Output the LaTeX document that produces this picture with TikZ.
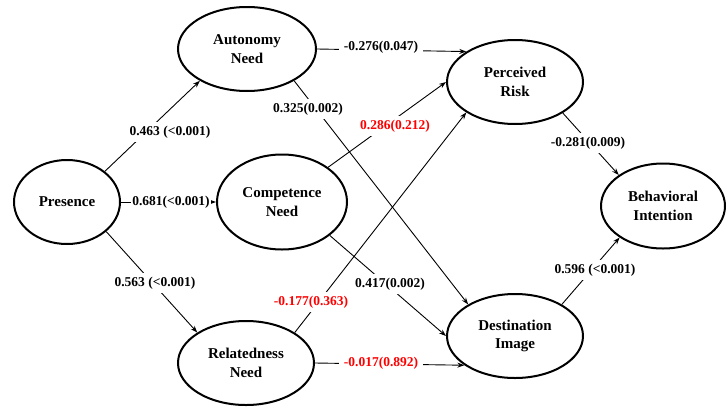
\documentclass[tikz,border=0pt]{standalone}
\usepackage{fontspec}
\setmainfont{Liberation Serif}
\usetikzlibrary{shapes.geometric,arrows.meta}

\begin{document}
\begin{tikzpicture}[x=1pt,y=-1pt,
  construct/.style={ellipse, draw, line width=2pt, inner sep=0pt, align=center,
     font=\fontsize{15}{18.5}\selectfont\bfseries},
  effect/.style={draw, line width=0.9pt, -{Stealth[length=7pt,width=5pt]}},
  coef/.style={fill=white, inner xsep=5pt, inner ysep=4pt, font=\fontsize{13.5}{16}\selectfont\bfseries},
  nscoef/.style={coef, text=red}]
\useasboundingbox (0,0) rectangle (727,407);

% constructs
\node[construct, minimum width=106pt, minimum height=84pt] (pres) at (67,202) {Presence};
\node[construct, minimum width=138pt, minimum height=84pt] (auto) at (247,49) {Autonomy\\Need};
\node[construct, minimum width=130pt, minimum height=95pt] (comp) at (282,202) {Competence\\Need};
\node[construct, minimum width=136pt, minimum height=84pt] (rel) at (246,363) {Relatedness\\Need};
\node[construct, minimum width=136pt, minimum height=84pt] (risk) at (515,82) {Perceived\\Risk};
\node[construct, minimum width=136pt, minimum height=84pt] (dest) at (515,336) {Destination\\Image};
\node[construct, minimum width=124pt, minimum height=85pt] (beh) at (663,206) {Behavioral\\Intention};

% structural paths
\draw[effect] (pres.39) -- (auto.214);
\draw[effect] (pres) -- (comp);
\draw[effect] (pres.323) -- (rel.148);
\draw[effect] (auto.east) -- (risk.148);
\draw[effect] (auto.326) -- (dest.146);
\draw[effect] (comp.37) -- (risk.180);
\draw[effect] (comp.325) -- (dest.180);
\draw[effect] (rel.32) -- (risk.212);
\draw[effect] (rel.east) -- (dest.210);
\draw[effect] (risk.327) -- (beh.145);
\draw[effect] (dest.34) -- (beh.216);

% path coefficients (p-values in brackets)
\node[coef] (c1) at (170,132) {0.463 (<0.001)};
\node[coef, inner xsep=1pt] (c2) at (171,202) {0.681(<0.001)};
\node[coef] (c3) at (155,283) {0.563 (<0.001)};
\node[coef] (c4) at (381,47) {-0.276(0.047)};
\node[coef] (c5) at (308,109) {0.325(0.002)};
\node[nscoef] (c6) at (395,126) {0.286(0.212)};
\node[coef] (c7) at (390,284) {0.417(0.002)};
\node[nscoef] (c8) at (311,302) {-0.177(0.363)};
\node[nscoef] (c9) at (381,363) {-0.017(0.892)};
\node[coef] (c10) at (588,143) {-0.281(0.009)};
\node[coef] (c11) at (595,270) {0.596 (<0.001)};
\end{tikzpicture}
\end{document}
